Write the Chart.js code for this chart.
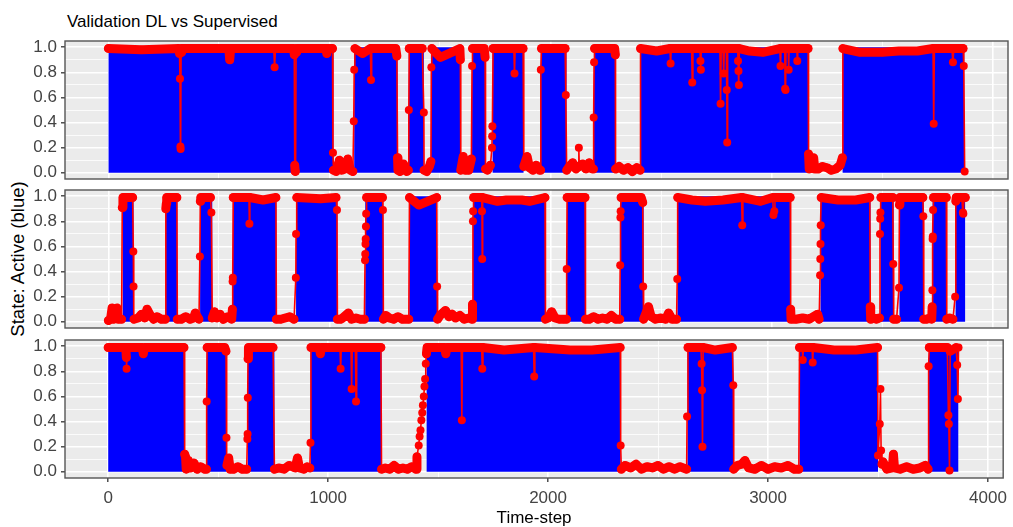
<!DOCTYPE html>
<html>
<head>
<meta charset="utf-8">
<script src="https://cdn.jsdelivr.net/npm/chart.js@4.4.1/dist/chart.umd.min.js"></script>
<style>
  body { margin: 0; background: #fff; font-family: "Liberation Sans", Arial, sans-serif; }
  #wrap { position: relative; width: 1013px; height: 527px; overflow: hidden; }
  canvas { position: absolute; left: 0; }
  #title { position: absolute; left: 67px; top: 13px; font-size: 17px; line-height: 17px; color: #000; white-space: nowrap; }
  #ylab { position: absolute; left: -82px; top: 250px; width: 200px; text-align: center; font-size: 18.5px; line-height: 18px;
          color: #000; transform: rotate(-90deg); white-space: nowrap; }
</style>
</head>
<body>
<div id="wrap">
  <div id="title">Validation DL vs Supervised</div>
  <div id="ylab">State: Active (blue)</div>
  <canvas id="p1" width="1013" height="170" style="top:25px"></canvas>
  <canvas id="p2" width="1013" height="170" style="top:174px"></canvas>
  <canvas id="p3" width="1013" height="203" style="top:324px"></canvas>
</div>
<script>
// ticks
const xTicks = [0, 500, 1000, 1500, 2000, 2500, 3000, 3500, 4000]
const yTicks = [0, 0.1, 0.2, 0.3, 0.4, 0.5, 0.6, 0.7, 0.8, 0.9, 1]

// blue = true state "active", [start, end] in time-steps
const active1 = [[0, 1018], [1112, 1308], [1359, 1427], [1459, 1593], [1645, 1706], [1738, 1878], [1956, 2072],
  [2196, 2294], [2407, 3167], [3321, 3872]]
const active2 = [[64, 114], [261, 312], [415, 470], [563, 760], [849, 1036], [1162, 1243], [1361, 1487], [1649, 1977],
  [2074, 2158], [2316, 2421], [2574, 3086], [3221, 3447], [3492, 3552], [3578, 3688], [3728, 3792], [3832, 3876]]
const active3 = [[0, 348], [448, 539], [635, 756], [921, 1243], [1448, 2330], [2634, 2842], [3143, 3500], [3731, 3866]]

// red = supervised prediction, [time-step, value]
const red1 = [[0, 0.99], [150, 0.98], [318, 0.99], [322, 0.95], [324, 0.75], [326, 0.21], [327, 0.19], [329, 0.96], [332, 0.99],
  [545, 0.99], [549, 0.9], [553, 0.99], [748, 0.99], [752, 0.84], [756, 0.99], [838, 0.99], [841, 0.94], [843, 0.06],
  [845, 0.01], [847, 0.01], [849, 0.96], [852, 0.99], [985, 0.99], [988, 0.95], [992, 0.99], [1014, 0.99], [1016, 0.16],
  [1018, 0.02], [1030, 0.01], [1045, 0.1], [1055, 0.02], [1070, 0.03], [1083, 0.11], [1095, 0.02], [1106, 0.01],
  [1110, 0.41], [1112, 0.82], [1115, 0.99], [1150, 0.95], [1185, 0.99], [1188, 0.74], [1191, 0.99], [1300, 0.99],
  [1305, 0.93], [1308, 0.12], [1310, 0.02], [1320, 0.01], [1335, 0.07], [1350, 0.01], [1357, 0.02], [1359, 0.5],
  [1361, 0.99], [1420, 0.99], [1427, 0.48], [1428, 0.02], [1440, 0.01], [1452, 0.05], [1459, 0.09], [1461, 0.84],
  [1463, 0.99], [1502, 0.92], [1590, 0.99], [1592, 0.9], [1594, 0.02], [1605, 0.13], [1615, 0.02], [1630, 0.02],
  [1642, 0.11], [1645, 0.85], [1647, 0.99], [1700, 0.99], [1704, 0.92], [1706, 0.03], [1715, 0.02], [1728, 0.06],
  [1735, 0.2], [1736, 0.29], [1737, 0.37], [1740, 0.99], [1834, 0.99], [1837, 0.79], [1840, 0.99], [1876, 0.99],
  [1879, 0.05], [1894, 0.13], [1905, 0.04], [1920, 0.02], [1935, 0.06], [1950, 0.02], [1955, 0.02], [1956, 0.82],
  [1959, 0.99], [2066, 0.99], [2069, 0.62], [2073, 0.02], [2085, 0.05], [2100, 0.08], [2115, 0.03], [2126, 0.05],
  [2128, 0.2], [2130, 0.05], [2145, 0.07], [2160, 0.03], [2175, 0.08], [2188, 0.03], [2194, 0.03], [2195, 0.44],
  [2197, 0.88], [2199, 0.99], [2290, 0.99], [2293, 0.94], [2294, 0.03], [2310, 0.05], [2330, 0.02], [2350, 0.04],
  [2370, 0.01], [2390, 0.04], [2405, 0.02], [2407, 0.99], [2480, 0.97], [2540, 0.99], [2543, 0.87], [2546, 0.99],
  [2638, 0.99], [2641, 0.72], [2644, 0.99], [2676, 0.99], [2678, 0.89], [2680, 0.82], [2682, 0.99], [2766, 0.99],
  [2769, 0.55], [2772, 0.99], [2780, 0.99], [2783, 0.79], [2786, 0.99], [2795, 0.99], [2797, 0.66], [2799, 0.24],
  [2801, 0.99], [2846, 0.99], [2848, 0.89], [2850, 0.81], [2852, 0.7], [2854, 0.99], [2900, 0.97], [2960, 0.96],
  [3037, 0.99], [3040, 0.85], [3043, 0.99], [3059, 0.99], [3061, 0.67], [3063, 0.66], [3065, 0.99], [3075, 0.99],
  [3077, 0.82], [3079, 0.99], [3114, 0.99], [3116, 0.89], [3118, 0.99], [3165, 0.99], [3167, 0.15], [3170, 0.03],
  [3190, 0.12], [3195, 0.03], [3210, 0.03], [3230, 0.05], [3250, 0.04], [3270, 0.02], [3290, 0.03], [3310, 0.06],
  [3320, 0.12], [3322, 0.99], [3400, 0.96], [3500, 0.96], [3575, 0.97], [3659, 0.97], [3730, 0.99], [3733, 0.39],
  [3736, 0.99], [3815, 0.99], [3820, 0.88], [3824, 0.99], [3866, 0.99], [3869, 0.85], [3873, 0.01]]

const red2 = [[0, 0.01], [10, 0.02], [17, 0.11], [24, 0.02], [39, 0.11], [45, 0.02], [60, 0.02], [63, 0.91], [66, 0.99],
  [110, 0.99], [113, 0.56], [114, 0.28], [116, 0.02], [135, 0.03], [150, 0.06], [165, 0.03], [175, 0.1], [190, 0.05],
  [205, 0.02], [220, 0.04], [240, 0.02], [258, 0.02], [260, 0.9], [262, 0.94], [264, 0.99], [310, 0.99], [312, 0.02],
  [330, 0.02], [350, 0.04], [370, 0.02], [385, 0.03], [393, 0.07], [410, 0.02], [414, 0.52], [416, 0.96], [418, 0.99],
  [462, 0.99], [466, 0.87], [470, 0.03], [480, 0.08], [490, 0.03], [505, 0.06], [520, 0.02], [540, 0.04], [558, 0.02],
  [561, 0.1], [562, 0.32], [563, 0.35], [565, 0.99], [636, 0.99], [638, 0.78], [640, 0.99], [700, 0.97], [758, 0.99],
  [760, 0.02], [780, 0.02], [800, 0.03], [820, 0.04], [840, 0.02], [848, 0.35], [849, 0.7], [852, 0.99], [960, 0.98],
  [1030, 0.99], [1034, 0.89], [1036, 0.02], [1050, 0.02], [1060, 0.03], [1086, 0.07], [1100, 0.02], [1120, 0.03],
  [1140, 0.02], [1158, 0.02], [1161, 0.49], [1162, 0.54], [1163, 0.62], [1164, 0.66], [1165, 0.76], [1166, 0.86],
  [1168, 0.99], [1240, 0.99], [1242, 0.89], [1244, 0.02], [1255, 0.05], [1270, 0.03], [1290, 0.02], [1310, 0.04],
  [1330, 0.02], [1359, 0.02], [1362, 0.99], [1404, 0.93], [1485, 0.99], [1487, 0.28], [1489, 0.02], [1500, 0.05],
  [1525, 0.09], [1540, 0.04], [1555, 0.06], [1570, 0.03], [1590, 0.05], [1610, 0.02], [1630, 0.03], [1645, 0.02],
  [1647, 0.14], [1649, 0.8], [1650, 0.88], [1652, 0.99], [1688, 0.99], [1690, 0.88], [1691, 0.5], [1693, 0.99],
  [1760, 0.96], [1800, 0.97], [1870, 0.97], [1905, 0.96], [1975, 0.99], [1977, 0.02], [1990, 0.03], [2005, 0.08],
  [2020, 0.03], [2040, 0.02], [2060, 0.02], [2072, 0.02], [2073, 0.42], [2075, 0.99], [2156, 0.99], [2158, 0.02],
  [2175, 0.02], [2195, 0.04], [2215, 0.02], [2235, 0.03], [2255, 0.02], [2275, 0.05], [2295, 0.02], [2313, 0.02],
  [2315, 0.45], [2316, 0.83], [2317, 0.88], [2319, 0.99], [2410, 0.99], [2417, 0.95], [2419, 0.28], [2421, 0.02],
  [2443, 0.12], [2455, 0.04], [2475, 0.02], [2500, 0.03], [2520, 0.02], [2534, 0.07], [2550, 0.02], [2570, 0.02],
  [2573, 0.34], [2575, 0.99], [2640, 0.97], [2700, 0.96], [2780, 0.97], [2864, 0.99], [2867, 0.77], [2870, 0.99],
  [2950, 0.96], [3005, 0.99], [3008, 0.85], [3012, 0.88], [3015, 0.99], [3084, 0.99], [3086, 0.1], [3088, 0.02],
  [3110, 0.02], [3140, 0.03], [3170, 0.02], [3208, 0.06], [3215, 0.02], [3219, 0.37], [3220, 0.5], [3221, 0.62],
  [3222, 0.77], [3224, 0.99], [3300, 0.97], [3380, 0.97], [3444, 0.99], [3446, 0.12], [3448, 0.02], [3460, 0.03],
  [3475, 0.02], [3488, 0.03], [3490, 0.7], [3491, 0.82], [3492, 0.87], [3494, 0.99], [3548, 0.99], [3550, 0.46],
  [3552, 0.02], [3565, 0.02], [3576, 0.27], [3578, 0.93], [3580, 0.99], [3684, 0.99], [3686, 0.84], [3688, 0.02],
  [3700, 0.02], [3715, 0.03], [3724, 0.02], [3726, 0.12], [3727, 0.25], [3728, 0.66], [3729, 0.68], [3730, 0.89],
  [3732, 0.99], [3790, 0.99], [3792, 0.02], [3805, 0.03], [3820, 0.02], [3830, 0.2], [3833, 0.96], [3835, 0.99],
  [3860, 0.99], [3865, 0.87], [3867, 0.86], [3870, 0.99], [3876, 0.99]]

const red3 = [[0, 0.99], [80, 0.99], [83, 0.91], [84, 0.82], [86, 0.99], [155, 0.99], [160, 0.94], [165, 0.99],
  [345, 0.99], [348, 0.14], [352, 0.12], [355, 0.02], [365, 0.09], [375, 0.03], [390, 0.07], [405, 0.02], [420, 0.04],
  [440, 0.02], [447, 0.02], [448, 0.56], [450, 0.99], [530, 0.99], [536, 0.96], [538, 0.27], [540, 0.05], [548, 0.11],
  [555, 0.02], [570, 0.02], [590, 0.04], [610, 0.02], [630, 0.02], [633, 0.26], [634, 0.3], [635, 0.59], [636, 0.9],
  [638, 0.99], [750, 0.99], [756, 0.02], [775, 0.03], [800, 0.02], [823, 0.05], [850, 0.03], [861, 0.11], [870, 0.03],
  [890, 0.02], [905, 0.04], [917, 0.03], [920, 0.23], [922, 0.99], [960, 0.99], [965, 0.94], [970, 0.99], [1054, 0.99],
  [1057, 0.82], [1060, 0.99], [1104, 0.99], [1107, 0.66], [1110, 0.99], [1124, 0.99], [1127, 0.56], [1130, 0.99],
  [1240, 0.99], [1243, 0.02], [1260, 0.03], [1280, 0.02], [1300, 0.05], [1320, 0.02], [1340, 0.03], [1360, 0.02],
  [1380, 0.04], [1400, 0.02], [1404, 0.12], [1412, 0.21], [1416, 0.28], [1420, 0.33], [1424, 0.41], [1428, 0.47],
  [1431, 0.53], [1435, 0.6], [1438, 0.68], [1441, 0.74], [1444, 0.86], [1447, 0.94], [1450, 0.99], [1530, 0.99],
  [1535, 0.94], [1540, 0.99], [1605, 0.99], [1608, 0.41], [1611, 0.99], [1698, 0.99], [1701, 0.82], [1704, 0.99],
  [1800, 0.97], [1934, 0.99], [1937, 0.76], [1940, 0.99], [2100, 0.97], [2200, 0.97], [2328, 0.99], [2330, 0.21],
  [2333, 0.02], [2350, 0.05], [2375, 0.03], [2400, 0.06], [2425, 0.02], [2450, 0.04], [2475, 0.03], [2500, 0.05],
  [2525, 0.02], [2550, 0.04], [2575, 0.02], [2600, 0.04], [2630, 0.02], [2632, 0.44], [2636, 0.99], [2695, 0.99],
  [2698, 0.86], [2700, 0.65], [2702, 0.2], [2705, 0.99], [2760, 0.97], [2838, 0.99], [2842, 0.69], [2844, 0.02],
  [2860, 0.05], [2880, 0.06], [2895, 0.09], [2912, 0.03], [2940, 0.02], [2970, 0.05], [3000, 0.02], [3030, 0.04],
  [3060, 0.03], [3090, 0.05], [3120, 0.02], [3140, 0.02], [3143, 0.99], [3155, 0.99], [3158, 0.89], [3161, 0.99],
  [3200, 0.99], [3203, 0.87], [3206, 0.99], [3300, 0.97], [3400, 0.97], [3498, 0.99], [3500, 0.13], [3508, 0.38],
  [3511, 0.66], [3514, 0.17], [3518, 0.06], [3522, 0.08], [3540, 0.02], [3565, 0.03], [3570, 0.14], [3575, 0.03],
  [3600, 0.02], [3630, 0.04], [3660, 0.02], [3690, 0.03], [3715, 0.05], [3728, 0.02], [3730, 0.84], [3733, 0.99],
  [3815, 0.99], [3820, 0.45], [3822, 0.38], [3825, 0.01], [3828, 0.96], [3855, 0.99], [3860, 0.85], [3863, 0.58],
  [3866, 0.99]]

const BLUE = '#0000FF'
const RED = '#FF0000'
const FONT = 'Liberation Sans, Arial, sans-serif'
const PAD = 16   // room above/below each panel for the y tick labels

// grey panel + frame (ggplot look)
const panelPlugin = {
  id: 'panel',
  beforeDraw(chart) {
    const { ctx, chartArea: a } = chart
    ctx.save()
    ctx.fillStyle = '#EBEBEB'
    ctx.fillRect(a.left, a.top, a.right - a.left, a.bottom - a.top)
    ctx.restore()
  },
  afterDraw(chart) {
    const { ctx, chartArea: a } = chart
    ctx.save()
    ctx.strokeStyle = '#555555'
    ctx.lineWidth = 1.4
    ctx.strokeRect(a.left, a.top, a.right - a.left, a.bottom - a.top)
    ctx.restore()
  }
}

// both ends on a plateau -> draw as the thick band of overlapping dots
function onPlateau(a, b) {
  return (a >= 0.9 && b >= 0.9) || (a <= 0.15 && b <= 0.15)
}

function makePanel(id, active, red, bottom) {
  const blue = []
  for (const [s, e] of active) {
    blue.push({ x: s, y: 0 }, { x: s, y: 1 }, { x: e, y: 1 }, { x: e, y: 0 })
  }
  const pred = red.map(([x, y]) => ({ x, y }))

  new Chart(document.getElementById(id), {
    type: 'line',
    data: {
      datasets: [{
        data: pred,
        borderColor: RED,
        borderWidth: 1.6,
        borderCapStyle: 'round',
        borderJoinStyle: 'round',
        pointRadius: 4,
        pointHoverRadius: 4,
        pointBackgroundColor: RED,
        pointBorderWidth: 0,
        tension: 0,
        clip: 6,
        order: 0,
        segment: {
          borderWidth: c => onPlateau(c.p0.parsed.y, c.p1.parsed.y) ? 9 : 1.6
        }
      }, {
        data: blue,
        fill: 'origin',
        backgroundColor: BLUE,
        borderWidth: 0,
        pointRadius: 0,
        tension: 0,
        order: 1
      }]
    },
    options: {
      responsive: false,
      animation: false,
      devicePixelRatio: 1,
      events: [],
      layout: { padding: { left: 0, right: 5, top: PAD, bottom: bottom ? 0 : PAD } },
      plugins: { legend: { display: false }, tooltip: { enabled: false } },
      scales: {
        x: {
          type: 'linear',
          min: -196,
          max: 4069,
          afterBuildTicks: s => { s.ticks = xTicks.map(v => ({ value: v })) },
          afterFit: s => { s.height = bottom ? 49 : 0 },
          border: { display: false },
          grid: {
            color: '#FFFFFF',
            lineWidth: c => c.index % 2 === 0 ? 1.6 : 0.8,
            drawTicks: bottom,
            tickLength: 4,
            tickColor: c => c.index % 2 === 0 ? '#333333' : 'rgba(0,0,0,0)',
            tickWidth: 1.3
          },
          ticks: {
            display: bottom,
            autoSkip: false,
            maxRotation: 0,
            padding: 6,
            color: '#444444',
            font: { family: FONT, size: 17 },
            callback: (v, i) => i % 2 === 0 ? String(v) : ''
          },
          title: {
            display: bottom,
            text: 'Time-step',
            color: '#000000',
            padding: { top: 0, bottom: 0 },
            font: { family: FONT, size: 17, lineHeight: 1 }
          }
        },
        y: {
          type: 'linear',
          min: -0.05,
          max: 1.05,
          afterBuildTicks: s => { s.ticks = yTicks.map(v => ({ value: v })) },
          afterFit: s => { s.width = 65 },
          border: { display: false },
          grid: {
            color: '#FFFFFF',
            lineWidth: c => c.index % 2 === 0 ? 1.6 : 0.8,
            tickLength: 4,
            tickColor: c => c.index % 2 === 0 ? '#333333' : 'rgba(0,0,0,0)',
            tickWidth: 1.3
          },
          ticks: {
            autoSkip: false,
            padding: 4,
            color: '#444444',
            font: { family: FONT, size: 17 },
            callback: (v, i) => i % 2 === 0 ? v.toFixed(1) : ''
          }
        }
      }
    },
    plugins: [panelPlugin]
  })
}

makePanel('p1', active1, red1, false)
makePanel('p2', active2, red2, false)
makePanel('p3', active3, red3, true)
</script>
</body>
</html>
